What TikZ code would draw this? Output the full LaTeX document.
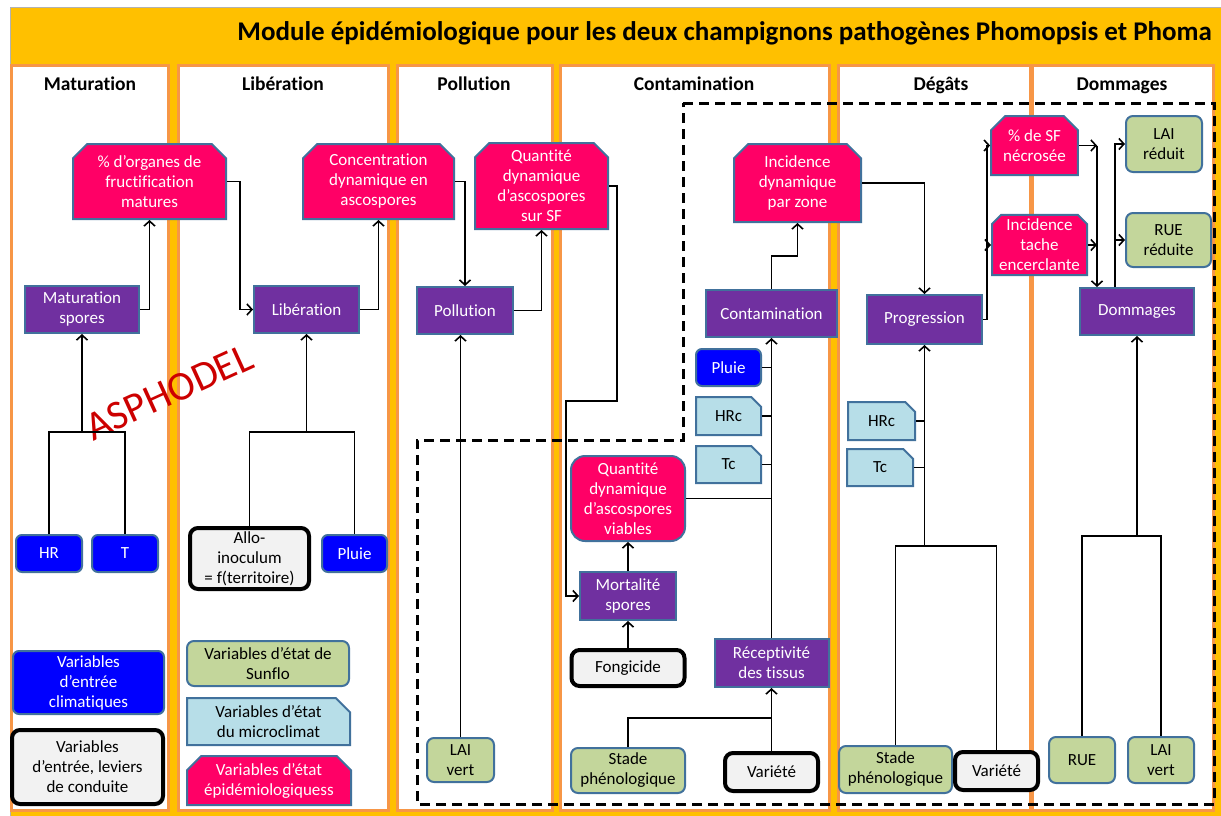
\documentclass[tikz,border=0pt]{standalone}
\usepackage{fontspec}
\setmainfont{Carlito}[Ligatures=NoCommon]
\usepackage{tikz}
\usetikzlibrary{shapes.misc,arrows.meta,calc,positioning}
\definecolor{titleyellow}{HTML}{FFC000}
\definecolor{colorange}{HTML}{F79646}
\definecolor{epipink}{HTML}{FF0066}
\definecolor{procpurple}{HTML}{7030A0}
\definecolor{boxedge}{HTML}{41719C}
\definecolor{climblue}{HTML}{0000FF}
\definecolor{sunflogreen}{HTML}{C3D69B}
\definecolor{microblue}{HTML}{B7DEE8}
\definecolor{leviergray}{HTML}{F2F2F2}
\definecolor{asphred}{HTML}{CC0000}
\tikzset{
  sz/.style 2 args={minimum width=#1pt, minimum height=#2pt},
  proc/.style={rectangle, draw=boxedge, fill=procpurple, text=white, line width=2pt},
  epi/.style={chamfered rectangle, chamfered rectangle corners={north west,north east},
    chamfered rectangle xsep=11pt, draw=boxedge, fill=epipink, text=white, line width=2pt},
  clim/.style={rectangle, rounded corners=6pt, draw=boxedge, fill=climblue, text=white, line width=2pt},
  sunflo/.style={rectangle, rounded corners=7pt, draw=boxedge, fill=sunflogreen, line width=2pt},
  micro/.style={chamfered rectangle, chamfered rectangle corners=north east,
    chamfered rectangle xsep=11pt, draw=boxedge, fill=microblue, line width=2pt},
  levier/.style={rectangle, rounded corners=8pt, draw=black, fill=leviergray, line width=4pt},
  colbox/.style={draw=colorange, fill=white, line width=3pt},
  colhead/.style={anchor=base, font=\bfseries\fontsize{19.5}{22}\selectfont},
  link/.style={draw=black, line width=1.6pt}
}
\begin{document}
\begin{tikzpicture}[x=1pt, y=-1pt, inner sep=1pt, align=center,
    font=\fontsize{17}{20}\selectfont, >={Straight Barb[length=5pt,width=11pt]}]
   \useasboundingbox (0,0) rectangle (1221,816);
   \fill[white] (0,0) rectangle (1221,816);
   \draw[fill=titleyellow, draw=gray!60, line width=1pt] (10,8) rectangle (1221,818);
   \node (title) [anchor=east, font=\bfseries\fontsize{27}{30}\selectfont] at (1213,33)
     {Module épidémiologique pour les deux champignons pathogènes Phomopsis et Phoma};
   \draw[colbox] (11,66) rectangle (168,810);
   \draw[colbox] (178,66) rectangle (388,810);
   \draw[colbox] (397,66) rectangle (552,810);
   \draw[colbox] (560,66) rectangle (829,810);
   \draw[colbox] (838,66) rectangle (1030,810);
   \draw[colbox] (1032,66) rectangle (1213,810);
   \node (hmat) [colhead] at (90,91) {Maturation};
   \node (hlib) [colhead] at (283,91) {Libération};
   \node (hpol) [colhead] at (474,91) {Pollution};
   \node (hcon) [colhead] at (694,91) {Contamination};
   \node (hdeg) [colhead] at (941,91) {Dégâts};
   \node (hdom) [colhead] at (1122,91) {Dommages};
   \draw[black, line width=3pt, dash pattern=on 10pt off 6pt]
     (683,103) -- (1214,103) -- (1214,804) -- (417,804) -- (417,440) -- (683,440) -- cycle;
   \node (asph) [rotate=24.5, text=asphred, font=\fontsize{41}{44}\selectfont] at (169,392) {ASPHODEL};

   \begin{scope}
    \node (org) [epi, sz={153}{75}] at (149.5,181.5) {\% d’organes de\\fructification\\matures};
    \node (matsp) [proc, sz={114}{47}] at (82,309.5) {Maturation\\spores};
    \node (hr) [clim, sz={66}{37}] at (49,553.5) {HR};
    \node (t) [clim, sz={66}{37}] at (125,553.5) {T};
    \node (legclim) [clim, sz={151}{63}] at (88.5,682.5) {Variables\\d’entrée\\climatiques};
    \node (leglev) [levier, sz={151}{74}] at (87.5,767) {Variables\\d’entrée, leviers\\de conduite};
   \end{scope}
   \begin{scope}
    \node (conc) [epi, sz={151}{75}] at (378.5,181.5) {Concentration\\dynamique en\\ascospores};
    \node (lib) [proc, sz={105}{47}] at (306.5,309.5) {Libération};
    \node (allo) [levier, sz={119}{61}] at (249.5,558.5) {Allo-\\inoculum\\= f(territoire)};
    \node (pluie1) [clim, sz={65}{37}] at (354.5,553.5) {Pluie};
    \node (legsun) [sunflo, sz={162}{45}] at (268,663.5) {Variables d’état de\\Sunflo};
    \node (legmic) [micro, sz={163}{47}] at (268.5,721.5) {Variables d’état\\du microclimat};
    \node (legepi) [epi, sz={164}{49}] at (269,780.5) {Variables d’état\\épidémiologiquess};
   \end{scope}
   \begin{scope}
    \node (qsf) [epi, sz={133}{86}] at (541.5,186) {Quantité\\dynamique\\d’ascospores\\sur SF};
    \node (poll) [proc, sz={96}{47}] at (465,310.5) {Pollution};
    \node (laiv1) [sunflo, sz={67}{44}] at (460.5,760) {LAI\\vert};
   \end{scope}
   \begin{scope}
    \node (inc) [epi, sz={127}{78}] at (797.5,183) {Incidence\\dynamique\\par zone};
    \node (cont) [proc, sz={131}{47}] at (771.5,313.5) {Contamination};
    \node (pluie2) [clim, sz={65}{37}] at (728.5,367.5) {Pluie};
    \node (hrc1) [micro, sz={65}{38}] at (728.5,416) {HRc};
    \node (tc1) [micro, sz={65}{37}] at (728.5,464.5) {Tc};
    \node (qvia) [epi, chamfered rectangle corners={}, rectangle, rounded corners=14pt, sz={114}{85}] at (628,498.5)
      {Quantité\\dynamique\\d’ascospores\\viables};
    \node (mort) [proc, sz={96}{48}] at (628,596) {Mortalité\\spores};
    \node (fong) [levier, sz={113}{36}] at (628,668) {Fongicide};
    \node (recep) [proc, sz={114}{48}] at (771.5,663) {Réceptivité\\des tissus};
    \node (stade1) [sunflo, sz={114}{45}] at (628,770.5) {Stade\\phénologique};
    \node (var1) [levier, sz={93}{38}] at (771.5,772) {Variété};
   \end{scope}
   \begin{scope}
    \node (sfn) [epi, sz={85}{59}] at (1034.5,145.5) {\% de SF\\nécrosée};
    \node (ite) [epi, chamfered rectangle xsep=6pt, sz={95}{58}] at (1039.5,245) {Incidence\\tache\\encerclante};
    \node (prog) [proc, sz={115}{49}] at (924.5,319.5) {Progression};
    \node (hrc2) [micro, sz={67}{38}] at (881.5,421) {HRc};
    \node (tc2) [micro, sz={66}{37}] at (880,467.5) {Tc};
    \node (stade2) [sunflo, sz={113}{47}] at (895.5,769.5) {Stade\\phénologique};
    \node (var2) [levier, sz={83}{38}] at (996.5,771) {Variété};
   \end{scope}
   \begin{scope}
    \node (laired) [sunflo, sz={76}{56}] at (1164,144) {LAI\\réduit};
    \node (ruered) [sunflo, sz={85}{54}] at (1168.5,240) {RUE\\réduite};
    \node (domm) [proc, sz={114}{47}] at (1137,311.5) {Dommages};
    \node (rue) [sunflo, sz={66}{46}] at (1082,760) {RUE};
    \node (laiv2) [sunflo, sz={66}{46}] at (1161,760) {LAI\\vert};
   \end{scope}

   \coordinate (jm) at (82,432);
   \coordinate (jl) at (306.5,432);
   \coordinate (ka) at (617,401);
   \coordinate (kb) at (566,401);
   \coordinate (jc) at (771.5,718);
   \coordinate (jd) at (924.5,546);
   \coordinate (bd) at (1097,145.5);
   \coordinate (jo) at (1137,536);
   \begin{scope}[link]
    \draw (hr.north) |- (jm) -| (t.north);
    \draw[->] (jm) -- (matsp.south);
    \draw[->] (matsp.east) -| (org.south);
    \draw[->] (org.east) -- ++(13,0) |- (lib.west);
    \draw (allo.north) |- (jl) -| (pluie1.north);
    \draw[->] (jl) -- (lib.south);
    \draw[->] (lib.east) -| (conc.south);
    \draw[->] (conc.east) -| (poll.north);
    \draw[->] (poll.east) -| (qsf.south);
    \draw[->] (laiv1.north) -- (laiv1.north |- poll.south);
    \draw[->] (qsf.east) -| (ka) -- (kb) |- (mort.west);
    \draw[->] (fong.north) -- (mort.south);
    \draw[->] (mort.north) -- (qvia.south);
    \draw[->] (recep.north) -- (cont.south);
    \foreach \n in {qvia,pluie2,hrc1,tc1}
      \draw (\n.east) -- (\n.east -| recep.north);
    \draw (stade1.north) |- (jc);
    \draw[->] (var1.north) -- (recep.south);
    \draw[->] (cont.north) -- ++(0,-33) -| (inc.south);
    \draw[->] (inc.east) -| (prog.north);
    \draw[->] (prog.east) -- ++(4,0) |- (sfn.west);
    \draw[->] (prog.east) -- ++(4,0) |- (ite.west);
    \foreach \n in {hrc2,tc2}
      \draw (\n.east) -- (\n.east -| prog.south);
    \draw (stade2.north) |- (jd) -| (var2.north);
    \draw[->] (jd) -- (prog.south);
    \draw[->] (sfn.east) -- (bd);
    \draw[->] (ite.east) -- (ite.east -| bd);
    \draw[->] (bd) -- (bd |- domm.north);
    \draw[->] ([xshift=-22pt]domm.north) |- (laired.west);
    \draw[->] ([xshift=-22pt]domm.north) |- (ruered.west);
    \draw (rue.north) |- (jo) -| (laiv2.north);
    \draw[->] (jo) -- (domm.south);
   \end{scope}
\end{tikzpicture}
\end{document}
